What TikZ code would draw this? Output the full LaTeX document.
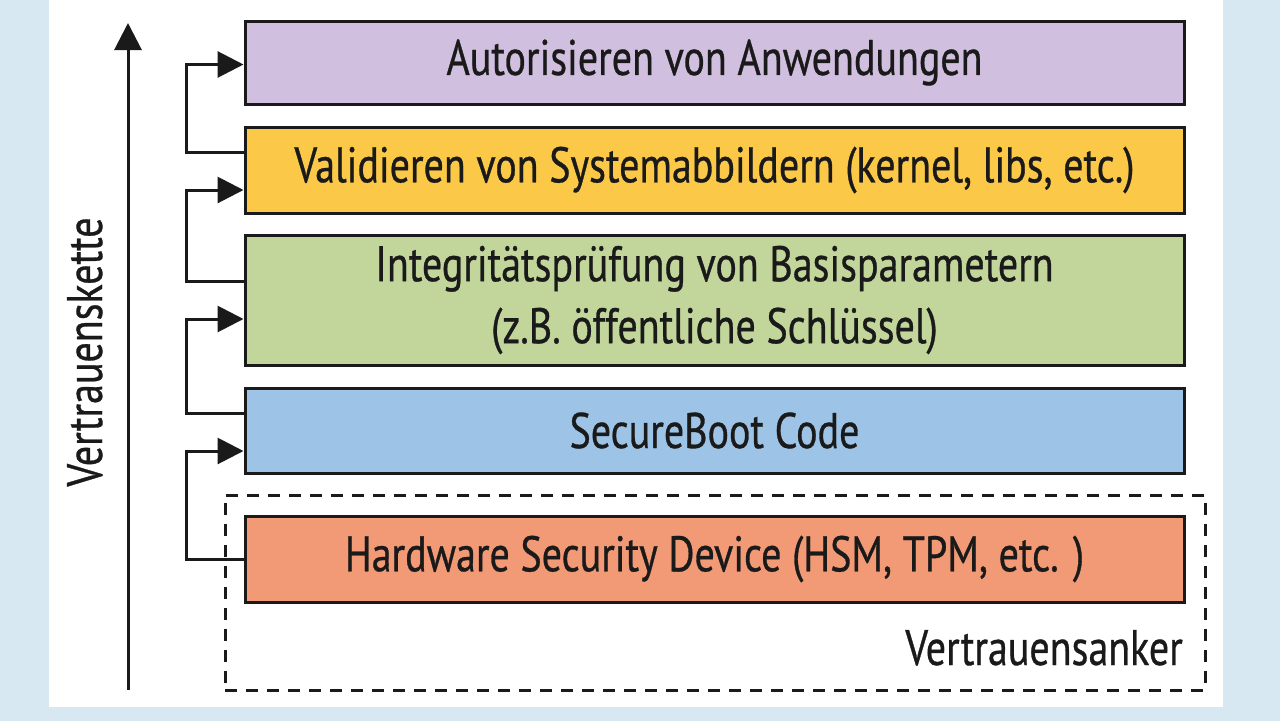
\documentclass[tikz,border=0pt]{standalone}
\usepackage{fontspec}
\setmainfont{PT Sans}[FakeStretch=0.80,FakeBold=0.6]
\usetikzlibrary{arrows.meta}
\definecolor{bgblue}{HTML}{D7E8F3}
\definecolor{cpurple}{HTML}{D1BFE0}
\definecolor{cyellow}{HTML}{FCC847}
\definecolor{cgreen}{HTML}{C2D69B}
\definecolor{cblue}{HTML}{9DC3E6}
\definecolor{corange}{HTML}{F29A76}
\definecolor{ink}{HTML}{1A1A1A}
\tikzset{
  layer/.style={draw=ink, line width=3pt, minimum width=939pt, text=ink,
    font=\fontsize{50}{62}\selectfont, align=center, inner sep=0pt},
  conn/.style={draw=ink, line width=3pt, -{Triangle[length=26pt,width=26pt]}},
  chain/.style={draw=ink, line width=3pt, -{Triangle[length=27pt,width=27pt]}},
  anchorframe/.style={draw=ink, line width=3pt, dash pattern=on 12pt off 9pt},
  lbl/.style={text=ink, font=\fontsize{50}{62}\selectfont, inner sep=0pt}
}
\begin{document}
\begin{tikzpicture}[x=1pt,y=-1pt]
\useasboundingbox (0,0) rectangle (1280,721);
\fill[bgblue] (0,0) rectangle (1280,721);
\fill[white] (49,0) rectangle (1223,707);

\node[anchorframe, minimum width=980pt, minimum height=195pt] (frame) at (715,592.5) {};

\node[layer, fill=cpurple, minimum height=83pt] (auth) at (714.5,62.5) {\raisebox{-2pt}{Autorisieren von Anwendungen}};
\node[layer, fill=cyellow, minimum height=86pt] (valid) at (714.5,170) {\raisebox{-2pt}{Validieren von Systemabbildern (kernel, libs, etc.)}};
\node[layer, fill=cgreen, minimum height=130pt] (integ) at (714.5,300) {Integritätsprüfung von Basisparametern\\(z.B. öffentliche Schlüssel)};
\node[layer, fill=cblue, minimum height=85pt] (boot) at (714.5,430.5) {SecureBoot Code};
\node[layer, fill=corange, minimum height=86pt] (hsm) at (714.5,559) {Hardware Security Device (HSM, TPM, etc. )};

\node[lbl, anchor=base east] (anker) at (1183,665) {Vertrauensanker};
\node[lbl, anchor=base, rotate=90] (kette) at (102,352) {Vertrauenskette};

\coordinate (chainbot) at (128,690);
\coordinate (chaintop) at (128,23);
\draw[chain] (chainbot) -- (chaintop);

\draw[conn] ([yshift=18pt]valid.west) -- ++(-57,0) |- ([yshift=-2pt]auth.west);
\draw[conn] ([yshift=19pt]integ.west) -- ++(-57,0) |- ([yshift=-20pt]valid.west);
\draw[conn] ([yshift=17.5pt]boot.west) -- ++(-57,0) |- ([yshift=-19pt]integ.west);
\draw[conn] (hsm.west) -- ++(-57,0) |- ([yshift=-20.5pt]boot.west);
\end{tikzpicture}
\end{document}
